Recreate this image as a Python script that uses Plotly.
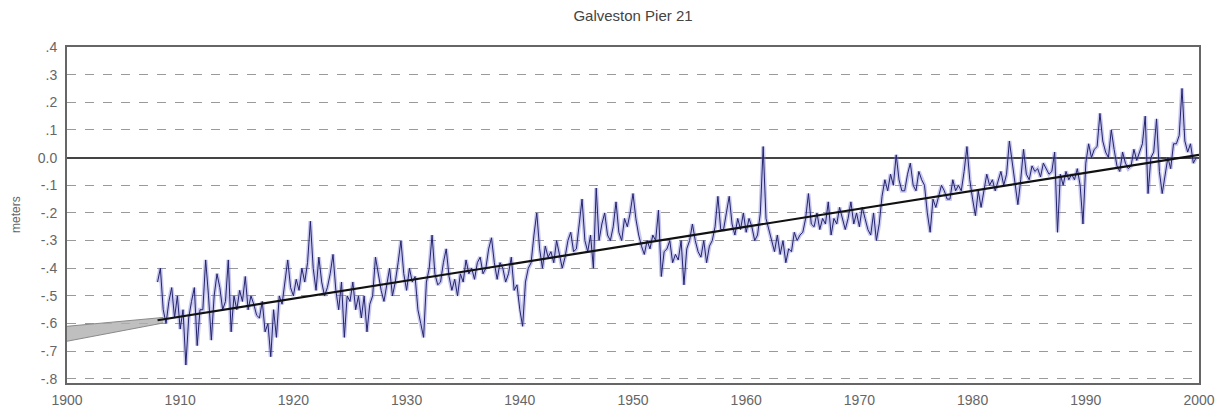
import plotly.graph_objects as go

# ---- data ----
start_year = 1908.0
# quarterly mean sea level (m), one row per year 1908..1999
level = [
    -0.45, -0.40, -0.55, -0.60,   # 1908
    -0.52, -0.47, -0.58, -0.50,   # 1909
    -0.62, -0.55, -0.75, -0.58,   # 1910
    -0.52, -0.47, -0.68, -0.55,   # 1911
    -0.55, -0.37, -0.50, -0.66,   # 1912
    -0.50, -0.42, -0.47, -0.55,   # 1913
    -0.52, -0.37, -0.63, -0.50,   # 1914
    -0.55, -0.48, -0.52, -0.43,   # 1915
    -0.55, -0.50, -0.53, -0.57,   # 1916
    -0.58, -0.52, -0.63, -0.60,   # 1917
    -0.72, -0.55, -0.65, -0.50,   # 1918
    -0.53, -0.45, -0.37, -0.47,   # 1919
    -0.50, -0.44, -0.48, -0.40,   # 1920
    -0.45, -0.38, -0.23, -0.40,   # 1921
    -0.48, -0.36, -0.45, -0.50,   # 1922
    -0.47, -0.42, -0.35, -0.48,   # 1923
    -0.55, -0.45, -0.65, -0.50,   # 1924
    -0.52, -0.45, -0.55, -0.50,   # 1925
    -0.58, -0.50, -0.63, -0.53,   # 1926
    -0.50, -0.36, -0.42, -0.48,   # 1927
    -0.52, -0.46, -0.40, -0.50,   # 1928
    -0.45, -0.38, -0.30, -0.42,   # 1929
    -0.48, -0.40, -0.45, -0.43,   # 1930
    -0.55, -0.60, -0.65, -0.45,   # 1931
    -0.40, -0.28, -0.42, -0.46,   # 1932
    -0.45, -0.38, -0.33, -0.43,   # 1933
    -0.48, -0.44, -0.50, -0.42,   # 1934
    -0.45, -0.37, -0.42, -0.40,   # 1935
    -0.44, -0.38, -0.36, -0.42,   # 1936
    -0.40, -0.33, -0.29, -0.38,   # 1937
    -0.44, -0.38, -0.40, -0.45,   # 1938
    -0.42, -0.36, -0.48, -0.46,   # 1939
    -0.55, -0.61, -0.45, -0.40,   # 1940
    -0.38, -0.28, -0.20, -0.33,   # 1941
    -0.40, -0.32, -0.36, -0.34,   # 1942
    -0.38, -0.30, -0.35, -0.40,   # 1943
    -0.36, -0.30, -0.27, -0.34,   # 1944
    -0.33, -0.25, -0.15, -0.30,   # 1945
    -0.34, -0.28, -0.40, -0.11,   # 1946
    -0.30, -0.24, -0.20, -0.28,   # 1947
    -0.30, -0.25, -0.16, -0.27,   # 1948
    -0.30, -0.22, -0.25, -0.20,   # 1949
    -0.13, -0.22, -0.28, -0.32,   # 1950
    -0.35, -0.30, -0.33, -0.28,   # 1951
    -0.30, -0.19, -0.43, -0.34,   # 1952
    -0.33, -0.30, -0.38, -0.35,   # 1953
    -0.37, -0.30, -0.46, -0.33,   # 1954
    -0.30, -0.24, -0.30, -0.34,   # 1955
    -0.36, -0.30, -0.38, -0.32,   # 1956
    -0.30, -0.25, -0.14, -0.26,   # 1957
    -0.26, -0.20, -0.14, -0.24,   # 1958
    -0.28, -0.22, -0.26, -0.20,   # 1959
    -0.27, -0.22, -0.25, -0.30,   # 1960
    -0.28, -0.20,  0.04, -0.22,   # 1961
    -0.26, -0.30, -0.34, -0.28,   # 1962
    -0.35, -0.30, -0.38, -0.33,   # 1963
    -0.34, -0.27, -0.30, -0.28,   # 1964
    -0.27, -0.22, -0.13, -0.24,   # 1965
    -0.25, -0.20, -0.26, -0.22,   # 1966
    -0.24, -0.16, -0.28, -0.22,   # 1967
    -0.24, -0.18, -0.22, -0.26,   # 1968
    -0.22, -0.16, -0.24, -0.20,   # 1969
    -0.25, -0.18, -0.22, -0.26,   # 1970
    -0.28, -0.20, -0.30, -0.24,   # 1971
    -0.14, -0.08, -0.12, -0.06,   # 1972
    -0.10,  0.01, -0.08, -0.12,   # 1973
    -0.12, -0.06, -0.02, -0.10,   # 1974
    -0.12, -0.05, -0.08, -0.10,   # 1975
    -0.20, -0.27, -0.15, -0.18,   # 1976
    -0.14, -0.10, -0.12, -0.15,   # 1977
    -0.15, -0.08, -0.12, -0.10,   # 1978
    -0.12, -0.05,  0.04, -0.08,   # 1979
    -0.15, -0.21, -0.12, -0.18,   # 1980
    -0.12, -0.06, -0.10, -0.08,   # 1981
    -0.12, -0.08, -0.05, -0.10,   # 1982
    -0.06,  0.06, -0.02, -0.08,   # 1983
    -0.17, -0.08,  0.03, -0.06,   # 1984
    -0.08, -0.03, -0.05, -0.04,   # 1985
    -0.07, -0.02, -0.04, -0.06,   # 1986
    -0.05,  0.02, -0.27, -0.06,   # 1987
    -0.10, -0.05, -0.08, -0.06,   # 1988
    -0.08, -0.04, -0.10, -0.24,   # 1989
    -0.02,  0.05,  0.00,  0.03,   # 1990
     0.04,  0.16,  0.06,  0.02,   # 1991
     0.00,  0.10,  0.03, -0.03,   # 1992
    -0.05,  0.02, -0.02, -0.04,   # 1993
    -0.03,  0.03, -0.01,  0.02,   # 1994
     0.05,  0.15, -0.13,  0.00,   # 1995
     0.02,  0.14, -0.05, -0.13,   # 1996
    -0.06,  0.00, -0.04,  0.05,   # 1997
     0.05,  0.08,  0.25,  0.06,   # 1998
     0.02,  0.05, -0.02,  0.00,   # 1999
]
time = [start_year + i * 0.25 for i in range(len(level))]

# linear trend and its confidence band (extrapolated part)
trend_years = [1908.0, 2000.0]
trend_vals = [-0.588, 0.010]
band_years = [1900.0, 1908.5]
band_upper = [-0.610, -0.578]
band_lower = [-0.664, -0.598]

y_ticks = [0.4, 0.3, 0.2, 0.1, 0.0, -0.1, -0.2, -0.3, -0.4, -0.5, -0.6, -0.7, -0.8]
y_labels = [".4", ".3", ".2", ".1", "0.0", "-.1", "-.2", "-.3", "-.4", "-.5", "-.6", "-.7", "-.8"]
x_ticks = [1900, 1910, 1920, 1930, 1940, 1950, 1960, 1970, 1980, 1990, 2000]

fig = go.Figure()

# confidence band
fig.add_trace(go.Scatter(x=band_years, y=band_upper, mode="lines",
                         line=dict(color="#8a8a8a", width=1), showlegend=False))
fig.add_trace(go.Scatter(x=band_years, y=band_lower, mode="lines", fill="tonexty",
                         fillcolor="rgba(175,175,175,0.8)",
                         line=dict(color="#8a8a8a", width=1), showlegend=False))

# data: soft halo + dark line
fig.add_trace(go.Scatter(x=time, y=level, mode="lines",
                         line=dict(color="rgba(120,120,215,0.40)", width=4),
                         showlegend=False))
fig.add_trace(go.Scatter(x=time, y=level, mode="lines",
                         line=dict(color="#24246c", width=1),
                         showlegend=False))

# trend line
fig.add_trace(go.Scatter(x=trend_years, y=trend_vals, mode="lines",
                         line=dict(color="#111111", width=2.2), showlegend=False))

fig.update_layout(
    width=1222, height=410,
    margin=dict(l=67, r=23, t=47, b=27, autoexpand=False),
    paper_bgcolor="white", plot_bgcolor="white",
    title=dict(text="Galveston Pier 21", x=0.5, xref="paper", y=1.0, yref="container",
               yanchor="top", pad=dict(t=10),
               font=dict(family="Liberation Sans, Arial", size=15, color="#444")),
    font=dict(family="Liberation Sans, Arial", size=13, color="#555"),
    annotations=[dict(text="meters", xref="paper", yref="paper", x=0, y=0.5,
                      xshift=-60, textangle=-90, showarrow=False,
                      font=dict(size=12, color="#666"))],
)
fig.update_xaxes(range=[1900, 2000], tickvals=x_ticks, ticks="", showgrid=False,
                 showline=True, linecolor="#666", linewidth=2, mirror=True,
                 zeroline=False, automargin=False, ticklabelstandoff=3,
                 tickfont=dict(size=14, color="#666"))
fig.update_yaxes(range=[-0.815, 0.4], tickvals=y_ticks, ticktext=y_labels, ticks="",
                 showgrid=True, gridcolor="#9a9a9a", griddash="dash", gridwidth=1,
                 zeroline=True, zerolinecolor="#444", zerolinewidth=2,
                 showline=True, linecolor="#666", linewidth=2, mirror=True,
                 automargin=False, ticklabelstandoff=5,
                 tickfont=dict(size=14, color="#666"))

# remove the browser's default 8px body margin so the figure fills the window
fig.write_html("out.html", config={"displayModeBar": False},
               post_script="document.body.style.margin='0';")
